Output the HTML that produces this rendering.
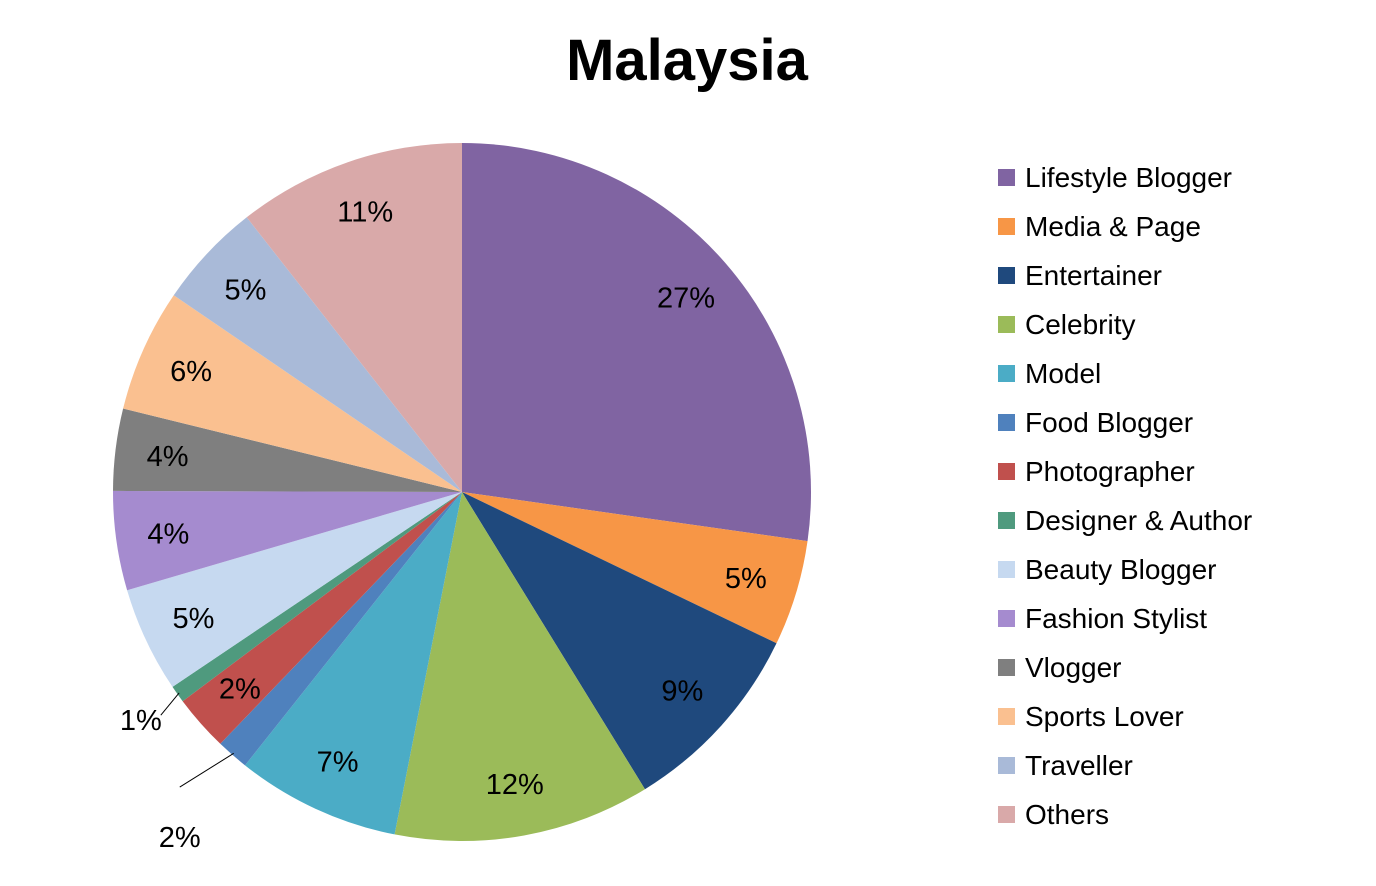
<!DOCTYPE html>
<html><head><meta charset="utf-8"><style>
body{margin:0;background:#fff;}
svg{display:block;font-family:"Liberation Sans",sans-serif;}
</style></head><body>
<svg id="chart" width="1376" height="886">
<text x="687" y="80" text-anchor="middle" font-size="58" font-weight="bold">Malaysia</text>
<g id="slices"></g><g id="labels"></g><g id="legend"></g>
</svg>
<script>
const categories=["Lifestyle Blogger","Media & Page","Entertainer","Celebrity","Model","Food Blogger","Photographer","Designer & Author","Beauty Blogger","Fashion Stylist","Vlogger","Sports Lover","Traveller","Others"];
const values=[27.3,4.9,9.1,11.9,7.6,1.5,2.6,0.8,4.9,4.6,3.8,5.7,4.9,10.6];
const labels=["27%","5%","9%","12%","7%","2%","2%","1%","5%","4%","4%","6%","5%","11%"];
const colors=["#8064A2","#F79646","#1F497D","#9BBB59","#4BACC6","#4F81BD","#C0504D","#4F9A7E","#C6D9F0","#A58BCF","#7F7F7F","#FAC090","#A9BAD8","#D9A9A9"];
const NS="http://www.w3.org/2000/svg";
const cx=462,cy=492,r=349;
const total=values.reduce((a,b)=>a+b,0);
function pt(a,rad){return [cx+rad*Math.sin(a),cy-rad*Math.cos(a)];}
const gS=document.getElementById('slices'),gL=document.getElementById('labels'),gG=document.getElementById('legend');
let a0=0;
values.forEach((v,i)=>{
  const a1=a0+v/total*2*Math.PI;
  const p0=pt(a0,r),p1=pt(a1,r);
  const large=(a1-a0)>Math.PI?1:0;
  const p=document.createElementNS(NS,'path');
  p.setAttribute('d',`M${cx},${cy}L${p0[0]},${p0[1]}A${r},${r} 0 ${large} 1 ${p1[0]},${p1[1]}Z`);
  p.setAttribute('fill',colors[i]);
  
  
  gS.appendChild(p);
  const m=(a0+a1)/2;
  const t=document.createElementNS(NS,'text');
  let lp;
  if(v/total<0.025){
    lp=pt(m,r+(i===5?80:45));
    const e=pt(m,r-2);
    const ln=document.createElementNS(NS,'polyline');
    const q=[lp[0]+(i===5?0:20),lp[1]-(i===5?28:5)];
    ln.setAttribute('points',`${e[0]},${e[1]} ${q[0]},${q[1]}`);
    ln.setAttribute('stroke','#000');ln.setAttribute('fill','none');
    
    
    gL.appendChild(ln);
    if(i===5)lp=[lp[0],lp[1]+22];
  } else lp=pt(m,r*0.85);
  t.setAttribute('x',lp[0]);t.setAttribute('y',lp[1]+10);
  t.setAttribute('text-anchor','middle');t.setAttribute('font-size','29');
  t.textContent=labels[i];
  
  
  gL.appendChild(t);
  a0=a1;
});
categories.forEach((c,i)=>{
  const y=177+49*i;
  const s=document.createElementNS(NS,'rect');
  s.setAttribute('x',998);s.setAttribute('y',y-8);s.setAttribute('width',17);s.setAttribute('height',17);
  s.setAttribute('fill',colors[i]);
  
  
  gG.appendChild(s);
  const t=document.createElementNS(NS,'text');
  t.setAttribute('x',1025);t.setAttribute('y',y+10);t.setAttribute('font-size','28');
  t.textContent=c;
  
  
  gG.appendChild(t);
});
</script>
</body></html>
